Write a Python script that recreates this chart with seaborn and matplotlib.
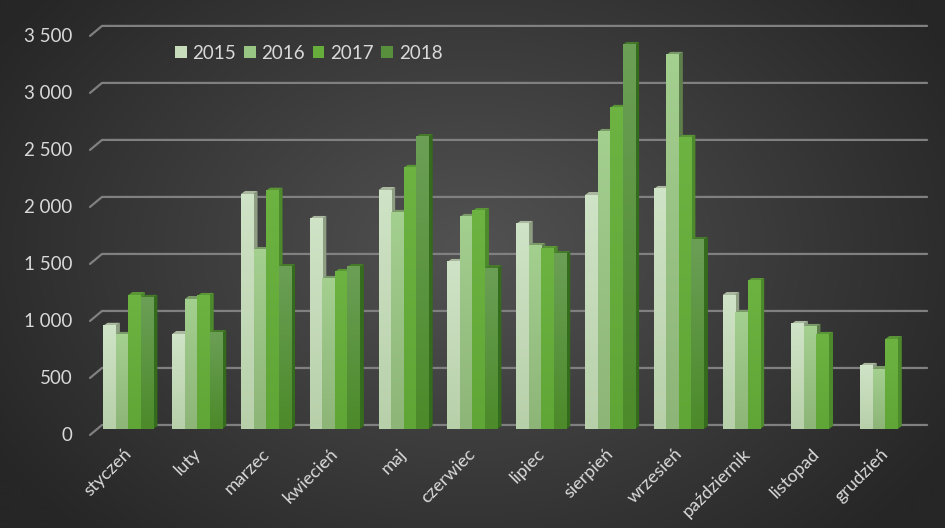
import numpy as np
import pandas as pd
import matplotlib
matplotlib.use("Agg")
import matplotlib.pyplot as plt
import seaborn as sns
from matplotlib.colors import LinearSegmentedColormap
from matplotlib.patches import Patch, Polygon
from matplotlib.transforms import ScaledTranslation

months = ["styczeń", "luty", "marzec", "kwiecień", "maj", "czerwiec", "lipiec",
          "sierpień", "wrzesień", "październik", "listopad", "grudzień"]
years = ["2015", "2016", "2017", "2018"]
v2015 = [905, 833, 2061, 1842, 2096, 1465, 1798, 2052, 2105, 1175, 921, 553]
v2016 = [825, 1140, 1570, 1316, 1895, 1860, 1605, 2605, 3281, 1018, 895, 526]
v2017 = [1175, 1167, 2090, 1377, 2290, 1912, 1579, 2816, 2553, 1298, 825, 789]
v2018 = [1150, 842, 1421, 1421, 2561, 1412, 1535, 3368, 1658, np.nan, np.nan, np.nan]
yticks = [0, 500, 1000, 1500, 2000, 2500, 3000, 3500]
ylabels = ["0", "500", "1 000", "1 500", "2 000", "2 500", "3 000", "3 500"]

front_top = {"2015": "#cfe3c6", "2016": "#a3cf8f", "2017": "#6db342", "2018": "#6b9f56"}
front_bot = {"2015": "#b8d0aa", "2016": "#8db578", "2017": "#5fa636", "2018": "#4c8a2a"}
side_col = {"2015": "#8d9e83", "2016": "#5e7f4c", "2017": "#4c8a2c", "2018": "#356b1c"}
roof_col = {"2015": "#a9b89f", "2016": "#7a9a68", "2017": "#5a9636", "2018": "#457a2a"}
legend_col = {"2015": "#c6dcbb", "2016": "#98c584", "2017": "#66ad3c", "2018": "#588f3c"}

df = pd.DataFrame({"month": months * 4,
                   "year": np.repeat(years, 12),
                   "value": v2015 + v2016 + v2017 + v2018})

W, H = 945, 528
sns.set_theme(style="white")
plt.rcParams["font.family"] = ["Lato", "DejaVu Sans"]
fig = plt.figure(figsize=((W + 0.1) / 100, (H + 0.1) / 100), dpi=100)

# dark radial background
bg = fig.add_axes([0, 0, 1, 1], zorder=0)
yy, xx = np.mgrid[0:H, 0:W]
r = np.sqrt(((xx - 470) / 560) ** 2 + ((yy - 250) / 400) ** 2)
bg.imshow(np.clip(r, 0, 1), cmap=LinearSegmentedColormap.from_list("bg", ["#525252", "#262626"]),
          vmin=0, vmax=1, aspect="auto")
bg.axis("off")

ax = fig.add_axes([94 / W, (H - 429) / H, 825.6 / W, 399 / H], zorder=1)
ax.patch.set_alpha(0)
sns.barplot(data=df, x="month", y="value", hue="year", hue_order=years, order=months,
            palette=legend_col, width=0.727, gap=0, saturation=1, legend=False,
            linewidth=0, edgecolor="none", ax=ax)

px_x = 1 / 68.8
px_y = 500 / 57

# walls lines sit behind the bars
for t in yticks:
    ax.plot([-0.5 - 4 * px_x, -0.5 + 8 * px_x, 11.5 + 7.4 * px_x],
            [t - 6 * px_y, t + 4 * px_y, t + 4 * px_y],
            color="#808080", lw=1.6, clip_on=False, zorder=1, solid_joinstyle="round")

# side + roof + gradient front for each bar, left to right
z = 3
order = []
for yr, cont in zip(years, ax.containers):
    for b in cont:
        order.append((b.get_x(), yr, b))
order.sort(key=lambda o: o[0])
dx, dy = 4 * px_x, 3 * px_y
for x0, yr, b in order:
    if np.isnan(b.get_height()):
        continue
    w, h = b.get_width(), b.get_height()
    ax.add_patch(Polygon([(x0 + w, 0), (x0 + w + dx, dy), (x0 + w + dx, h + dy), (x0 + w, h)],
                         fc=side_col[yr], ec="none", zorder=z, clip_on=False))
    ax.add_patch(Polygon([(x0, h), (x0 + dx, h + dy), (x0 + w + dx, h + dy), (x0 + w, h)],
                         fc=roof_col[yr], ec="none", zorder=z, clip_on=False))
    b.set_zorder(z + 1)
    cm = LinearSegmentedColormap.from_list(yr, [front_bot[yr], front_top[yr]])
    ax.imshow(np.linspace(1, 0, 64).reshape(-1, 1), cmap=cm, vmin=0, vmax=1, aspect="auto",
              extent=(x0, x0 + w, 0, h), zorder=z + 2, clip_on=False)
    z += 3

ax.set_xlim(-0.5, 11.5)
ax.set_ylim(0, 3500)
ax.set_yticks(yticks, ylabels)
ax.set_xlabel("")
ax.set_ylabel("")
sns.despine(ax=ax, left=True, bottom=True)
ax.tick_params(axis="y", length=0, pad=15.5, labelsize=13.5, labelcolor="#d9d9d9")
ax.tick_params(axis="x", length=0, pad=12, labelsize=13, labelcolor="#d9d9d9")
ax.set_xticks(range(12), months, rotation=45, ha="right", va="top", rotation_mode="anchor")

shift = ScaledTranslation(0, -5 / 100, fig.dpi_scale_trans)
for lab in ax.get_yticklabels():
    lab.set_transform(lab.get_transform() + shift)
shift_x = ScaledTranslation(-5 / 100, 0, fig.dpi_scale_trans)
for lab in ax.get_xticklabels():
    lab.set_transform(lab.get_transform() + shift_x)

handles = [Patch(fc=legend_col[y], ec="none", label=y) for y in years]
ax.legend(handles=handles, loc="upper left", bbox_to_anchor=(81 / 825.6, 0.9625), ncol=4, frameon=False,
          fontsize=13.5, labelcolor="#d9d9d9", handlelength=0.62, handleheight=0.62,
          handletextpad=0.3, columnspacing=0.42, borderpad=0, borderaxespad=0)

fig.savefig("out.png", dpi=100)
